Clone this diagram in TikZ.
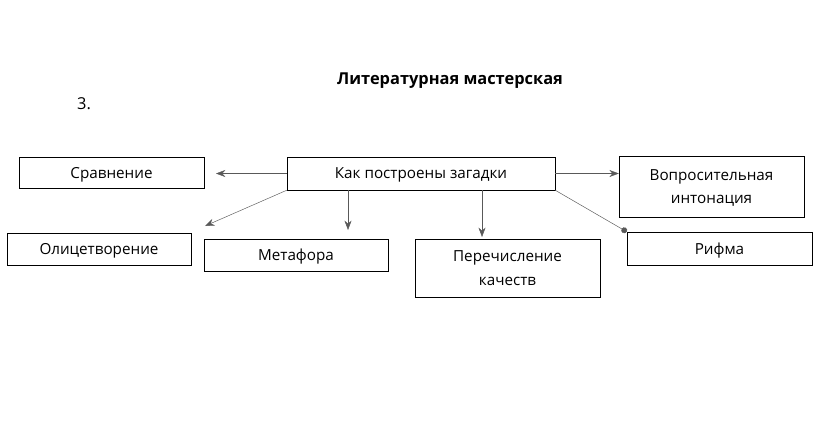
\documentclass[tikz,border=0pt]{standalone}
\usepackage{fontspec}
\setmainfont{Open Sans}
\usetikzlibrary{arrows.meta}

\begin{document}
\begin{tikzpicture}[x=0.03cm, y=-0.03cm,
        blok/.style={draw, thin, inner sep=0pt, text depth=0pt, align=center, font=\fontsize{13}{16}\selectfont},
        strel/.style={black!65, thin, -{Stealth[length=8pt, width=6pt]}}]
        \useasboundingbox (0,0) rectangle (823,424);

        \node[font=\bfseries\fontsize{14}{17}\selectfont] (zagl) at (450,81) {Литературная мастерская};
        \node[font=\fontsize{14}{17}\selectfont] (nomer) at (84,104) {3.};

        \node[blok, minimum width=5.55cm, minimum height=0.93cm] (srav) at (111.5,172.5) {Сравнение};
        \node[blok, minimum width=8.04cm, minimum height=0.99cm] (kak) at (421,173.5) {Как построены загадки};
        \node[blok, minimum width=5.55cm, minimum height=1.83cm, font=\fontsize{13}{20}\selectfont] (vopr) at (711.5,186.5) {Вопросительная\\интонация};
        \node[blok, minimum width=5.52cm, minimum height=0.96cm] (olic) at (99,249) {Олицетворение};
        \node[blok, minimum width=5.52cm, minimum height=0.96cm] (metaf) at (296,255) {Метафора};
        \node[blok, minimum width=5.55cm, minimum height=1.74cm, font=\fontsize{13}{20}\selectfont] (perech) at (507.5,268) {Перечисление\\качеств};
        \node[blok, minimum width=5.55cm, minimum height=0.99cm] (rifma) at (719.5,248.5) {Рифма};

        \coordinate (sravend) at (216,173.5);
        \coordinate (olicend) at (205,226);
        \coordinate (metend) at (348,230);
        \coordinate (perend) at (482,237);

        \draw[strel] (kak.west) -- (sravend);
        \draw[strel] (kak.south west) -- (olicend);
        \draw[strel] (kak.south -| metend) -- (metend);
        \draw[strel] (kak.south -| perend) -- (perend);
        \draw[strel] (kak.east) -- (kak.east -| vopr.west);
        \draw[black!65, thin, -{Circle[length=5pt]}] (kak.south east) -- (rifma.north west);
\end{tikzpicture}
\end{document}
